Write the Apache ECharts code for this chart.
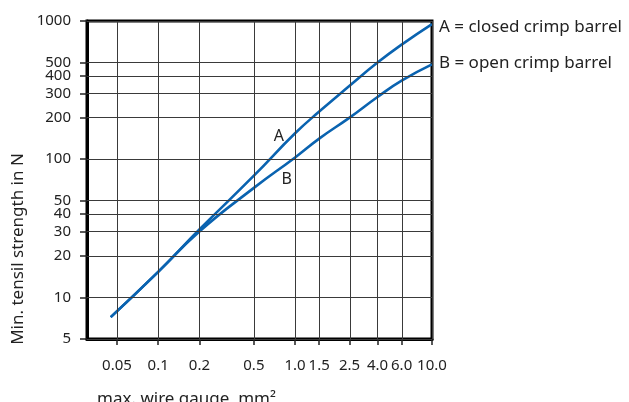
<!DOCTYPE html>
<html>
<head>
<meta charset="utf-8">
<script src="https://cdn.jsdelivr.net/npm/echarts@6/dist/echarts.min.js"></script>
<style>
html,body{margin:0;padding:0;background:#fff;}
#chart{width:629px;height:402px;}
</style>
</head>
<body>
<div id="chart"></div>
<script>
// Tick values and labels
const xTicks = [0.05, 0.1, 0.2, 0.5, 1.0, 1.5, 2.5, 4.0, 6.0, 10.0];
const xTickLabels = ['0.05', '0.1', '0.2', '0.5', '1.0', '1.5', '2.5', '4.0', '6.0', '10.0'];
const yTicks = [5, 10, 20, 30, 40, 50, 100, 200, 300, 400, 500, 1000];
const yTickLabels = ['5', '10', '20', '30', '40', '50', '100', '200', '300', '400', '500', '1000'];

// Curve A: closed crimp barrel
const gaugeA = [0.045, 0.1, 0.2, 0.5, 1.0, 1.5, 2.5, 4.0, 6.0, 10.0];
const strengthA = [7.2, 15.3, 31, 76, 154, 221, 340, 500, 675, 950];
// Curve B: open crimp barrel
const gaugeB = [0.045, 0.1, 0.2, 0.5, 1.0, 1.5, 2.5, 4.0, 6.0, 10.0];
const strengthB = [7.2, 15.3, 30, 62, 103, 141, 200, 282, 370, 485];

const seriesNames = ['A = closed crimp barrel', 'B = open crimp barrel'];
const curveLetters = ['A', 'B'];
const letterPosA = [0.76, 147];
const letterPosB = [0.87, 71];

const xMin = 0.0302, xMax = 10, yMin = 5, yMax = 1000;

const L = Math.log10;
const FONT = 'Noto Sans';
const BLUE = '#0a63b0';

function lookup(ticks, labels, v) {
  for (let i = 0; i < ticks.length; i++) {
    if (Math.abs(L(ticks[i]) - v) < 1e-6) return labels[i];
  }
  return '';
}

const chart = echarts.init(document.getElementById('chart'), null, {renderer: 'canvas'});
const option = {
  animation: false,
  textStyle: {fontFamily: FONT},
  grid: {left: 87, right: 197, top: 21, bottom: 63, show: true, borderColor: '#000', borderWidth: 3, backgroundColor: 'transparent'},
  xAxis: {
    type: 'value', min: L(xMin), max: L(xMax),
    axisLine: {show: true, onZero: false, lineStyle: {color: '#000', width: 3}},
    axisTick: {show: true, customValues: xTicks.map(L), length: 6, lineStyle: {color: '#222', width: 1.5}},
    axisLabel: {show: true, customValues: xTicks.map(L), margin: 19, color: '#222', fontSize: 15, fontFamily: FONT,
      formatter: v => lookup(xTicks, xTickLabels, v)},
    splitLine: {show: false}
  },
  yAxis: {
    type: 'value', min: L(yMin), max: L(yMax),
    axisLine: {show: true, onZero: false, lineStyle: {color: '#000', width: 3}},
    axisTick: {show: true, customValues: yTicks.map(L), length: 7, lineStyle: {color: '#222', width: 1.5}},
    axisLabel: {show: true, customValues: yTicks.map(L), margin: 16, color: '#222', fontSize: 15, fontFamily: FONT,
      formatter: v => lookup(yTicks, yTickLabels, v)},
    splitLine: {show: false}
  },
  graphic: [
    {type: 'text', x: 18, y: 249, rotation: Math.PI / 2,
      style: {text: 'Min. tensil strength in N', fill: '#222', font: '17px "Noto Sans"', align: 'center', verticalAlign: 'middle'}},
    {type: 'text', x: 97, y: 399,
      style: {text: 'max. wire gauge  mm\u00b2', fill: '#222', font: '17px "Noto Sans"', align: 'left', verticalAlign: 'middle'}}
  ],
  series: [
    {
      type: 'line', name: 'grid', data: [], z: 1, silent: true,
      markLine: {
        silent: true, symbol: ['none', 'none'], animation: false,
        label: {show: false},
        lineStyle: {color: '#3a3a3a', width: 1, type: 'solid'},
        emphasis: {disabled: true},
        data: xTicks.map(v => ({xAxis: L(v)})).concat(yTicks.map(v => ({yAxis: L(v)})))
      }
    },
    {
      type: 'line', name: seriesNames[0], z: 3,
      data: gaugeA.map((g, i) => [L(g), L(strengthA[i])]),
      smooth: 0.5, showSymbol: false, symbol: 'none',
      lineStyle: {color: BLUE, width: 2.6}, itemStyle: {color: BLUE},
      endLabel: {show: true, formatter: seriesNames[0], color: '#222', fontSize: 17, fontFamily: FONT, distance: 7, offset: [0, 3]},
      markPoint: {
        symbol: 'circle', symbolSize: 1, itemStyle: {color: 'rgba(0,0,0,0)'},
        label: {show: true, position: 'inside', formatter: curveLetters[0], color: '#222', fontSize: 16, fontFamily: FONT},
        data: [{coord: [L(letterPosA[0]), L(letterPosA[1])]}]
      }
    },
    {
      type: 'line', name: seriesNames[1], z: 3,
      data: gaugeB.map((g, i) => [L(g), L(strengthB[i])]),
      smooth: 0.5, showSymbol: false, symbol: 'none',
      lineStyle: {color: BLUE, width: 2.6}, itemStyle: {color: BLUE},
      endLabel: {show: true, formatter: seriesNames[1], color: '#222', fontSize: 17, fontFamily: FONT, distance: 7, offset: [0, -1]},
      markPoint: {
        symbol: 'circle', symbolSize: 1, itemStyle: {color: 'rgba(0,0,0,0)'},
        label: {show: true, position: 'inside', formatter: curveLetters[1], color: '#222', fontSize: 16, fontFamily: FONT},
        data: [{coord: [L(letterPosB[0]), L(letterPosB[1])]}]
      }
    }
  ]
};
chart.setOption(option);
</script>
</body>
</html>
